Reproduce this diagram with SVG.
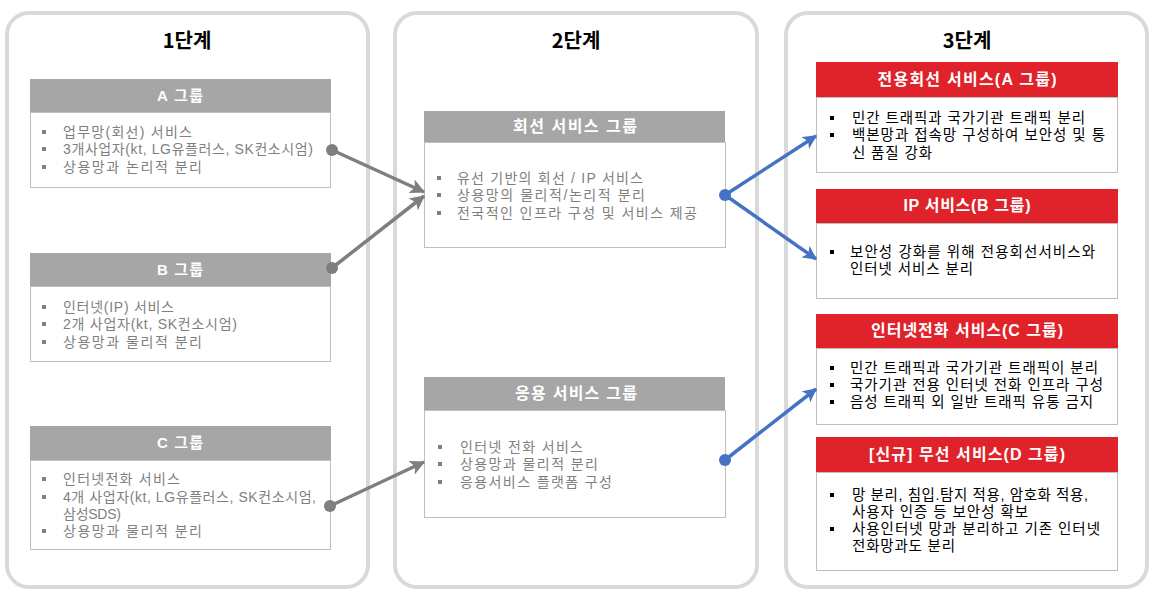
<svg xmlns="http://www.w3.org/2000/svg" width="1156" height="604" viewBox="0 0 1156 604">
<defs>
<style>
.panel{fill:#fff;stroke:#d9d9d9;stroke-width:4}
.title{font-family:"Noto Sans CJK KR","Liberation Sans",sans-serif;font-size:20px;font-weight:bold;fill:#000;text-anchor:middle}
.gh{fill:#a6a6a6}
.rh{fill:#e0222a}
.body{fill:#fff;stroke:#bfbfbf;stroke-width:1}
.ht{font-family:"Liberation Sans","Noto Sans CJK KR",sans-serif;font-size:16px;font-weight:bold;fill:#fff;text-anchor:middle}
.gt{font-family:"Liberation Sans","Noto Sans CJK KR",sans-serif;font-size:14px;fill:#7f7f7f}
.bt{font-family:"Liberation Sans","Noto Sans CJK KR",sans-serif;font-size:14.5px;fill:#000}
.gb{fill:#7f7f7f}
.bb{fill:#000}
.gl{stroke:#7f7f7f;stroke-width:3.5;fill:none}
.bl{stroke:#4472c4;stroke-width:3.5;fill:none}
</style>
<marker id="ag" viewBox="0 0 12 12" refX="11" refY="6" markerWidth="15" markerHeight="15" markerUnits="userSpaceOnUse" orient="auto"><path d="M0,0 L12,6 L0,12 L3,6 z" fill="#7f7f7f"/></marker>
<marker id="ab" viewBox="0 0 12 12" refX="11" refY="6" markerWidth="14" markerHeight="14" markerUnits="userSpaceOnUse" orient="auto"><path d="M0,0 L12,6 L0,12 L3,6 z" fill="#4472c4"/></marker>
</defs>
<rect width="1156" height="604" fill="#fff"/>

<g id="stage1">
<rect class="panel" x="7" y="13" width="361" height="574" rx="22"/>
<text class="title" x="187" y="48">1단계</text>
</g>
<g id="stage2">
<rect class="panel" x="395" y="13" width="362" height="574" rx="22"/>
<text class="title" x="576" y="48">2단계</text>
</g>
<g id="stage3">
<rect class="panel" x="786" y="13" width="361" height="574" rx="22"/>
<text class="title" x="967" y="48">3단계</text>
</g>

<g id="groupA">
<rect class="gh" x="30" y="79" width="301" height="33"/>
<rect class="body" x="30.5" y="112.5" width="300" height="75"/>
<text class="ht" x="180" y="101" textLength="46" style="font-size:15px">A 그룹</text>
<rect class="gb" x="42" y="130" width="4" height="4"/>
<rect class="gb" x="42" y="147" width="4" height="4"/>
<rect class="gb" x="42" y="165" width="4" height="4"/>
<text class="gt"><tspan x="63" y="137" textLength="129">업무망(회선) 서비스</tspan><tspan x="63" y="154" textLength="250">3개사업자(kt, LG유플러스, SK컨소시엄)</tspan><tspan x="63" y="172" textLength="139">상용망과 논리적 분리</tspan></text>
</g>

<g id="groupB">
<rect class="gh" x="30" y="253" width="301" height="33"/>
<rect class="body" x="30.5" y="286.5" width="300" height="75"/>
<text class="ht" x="180" y="275" textLength="46" style="font-size:15px">B 그룹</text>
<rect class="gb" x="42" y="305" width="4" height="4"/>
<rect class="gb" x="42" y="322" width="4" height="4"/>
<rect class="gb" x="42" y="340" width="4" height="4"/>
<text class="gt"><tspan x="63" y="312" textLength="111">인터넷(IP) 서비스</tspan><tspan x="63" y="329" textLength="174">2개 사업자(kt, SK컨소시엄)</tspan><tspan x="63" y="347" textLength="139">상용망과 물리적 분리</tspan></text>
</g>

<g id="groupC">
<rect class="gh" x="30" y="426" width="301" height="34"/>
<rect class="body" x="30.5" y="460.5" width="300" height="89"/>
<text class="ht" x="180" y="448" textLength="46" style="font-size:15px">C 그룹</text>
<rect class="gb" x="42" y="477" width="4" height="4"/>
<rect class="gb" x="42" y="495" width="4" height="4"/>
<rect class="gb" x="42" y="529" width="4" height="4"/>
<text class="gt"><tspan x="63" y="484" textLength="117">인터넷전화 서비스</tspan><tspan x="63" y="502" textLength="253">4개 사업자(kt, LG유플러스, SK컨소시엄,</tspan><tspan x="63" y="519" textLength="58">삼성SDS)</tspan><tspan x="63" y="536" textLength="139">상용망과 물리적 분리</tspan></text>
</g>

<g id="circuitGroup">
<rect class="gh" x="424" y="111" width="301" height="31"/>
<rect class="body" x="424.5" y="142.5" width="301" height="105"/>
<text class="ht" x="575" y="132" textLength="124">회선 서비스 그룹</text>
<rect class="gb" x="437" y="176" width="4" height="4"/>
<rect class="gb" x="437" y="193" width="4" height="4"/>
<rect class="gb" x="437" y="211" width="4" height="4"/>
<text class="gt"><tspan x="457" y="183" textLength="186">유선 기반의 회선 / IP 서비스</tspan><tspan x="457" y="200" textLength="188">상용망의 물리적/논리적 분리</tspan><tspan x="457" y="218" textLength="240">전국적인 인프라 구성 및 서비스 제공</tspan></text>
</g>

<g id="appGroup">
<rect class="gh" x="424" y="377" width="301" height="33"/>
<rect class="body" x="424.5" y="410.5" width="301" height="107"/>
<text class="ht" x="576" y="399" textLength="122">응용 서비스 그룹</text>
<rect class="gb" x="438" y="445" width="4" height="4"/>
<rect class="gb" x="438" y="462" width="4" height="4"/>
<rect class="gb" x="438" y="480" width="4" height="4"/>
<text class="gt"><tspan x="460" y="452" textLength="123">인터넷 전화 서비스</tspan><tspan x="460" y="469" textLength="138">상용망과 물리적 분리</tspan><tspan x="460" y="487" textLength="152">응용서비스 플랫폼 구성</tspan></text>
</g>

<g id="dedicatedA">
<rect class="rh" x="816" y="62" width="302" height="35"/>
<rect class="body" x="816.5" y="97.5" width="301" height="75"/>
<text class="ht" x="967" y="85" textLength="179">전용회선 서비스(A 그룹)</text>
<rect class="bb" x="830" y="116" width="4" height="4"/>
<rect class="bb" x="830" y="133" width="4" height="4"/>
<text class="bt"><tspan x="852" y="123" textLength="233">민간 트래픽과 국가기관 트래픽 분리</tspan><tspan x="852" y="140" textLength="253">백본망과 접속망 구성하여 보안성 및 통</tspan><tspan x="852" y="158" textLength="80">신 품질 강화</tspan></text>
</g>

<g id="ipB">
<rect class="rh" x="816" y="189" width="302" height="34"/>
<rect class="body" x="816.5" y="223.5" width="301" height="75"/>
<text class="ht" x="967" y="211" textLength="127">IP 서비스(B 그룹)</text>
<rect class="bb" x="830" y="250" width="4" height="4"/>
<text class="bt"><tspan x="850" y="257" textLength="245">보안성 강화를 위해 전용회선서비스와</tspan><tspan x="850" y="274" textLength="123">인터넷 서비스 분리</tspan></text>
</g>

<g id="voipC">
<rect class="rh" x="816" y="314" width="302" height="34"/>
<rect class="body" x="816.5" y="348.5" width="301" height="76"/>
<text class="ht" x="967" y="336" textLength="192">인터넷전화 서비스(C 그룹)</text>
<rect class="bb" x="830" y="366" width="4" height="4"/>
<rect class="bb" x="830" y="383" width="4" height="4"/>
<rect class="bb" x="830" y="400" width="4" height="4"/>
<text class="bt"><tspan x="850" y="373" textLength="248">민간 트래픽과 국가기관 트래픽이 분리</tspan><tspan x="850" y="390" textLength="253">국가기관 전용 인터넷 전화 인프라 구성</tspan><tspan x="850" y="407" textLength="243">음성 트래픽 외 일반 트래픽 유통 금지</tspan></text>
</g>

<g id="wirelessD">
<rect class="rh" x="816" y="437" width="302" height="35"/>
<rect class="body" x="816.5" y="472.5" width="301" height="98"/>
<text class="ht" x="967" y="460" textLength="196">[신규] 무선 서비스(D 그룹)</text>
<rect class="bb" x="830" y="493" width="4" height="4"/>
<rect class="bb" x="830" y="527" width="4" height="4"/>
<text class="bt"><tspan x="852" y="500" textLength="236">망 분리, 침입.탐지 적용, 암호화 적용,</tspan><tspan x="852" y="517" textLength="176">사용자 인증 등 보안성 확보</tspan><tspan x="852" y="534" textLength="248">사용인터넷 망과 분리하고 기존 인터넷</tspan><tspan x="852" y="551" textLength="103">전화망과도 분리</tspan></text>
</g>

<g id="connectors">
<line class="gl" x1="332" y1="150" x2="424" y2="192" marker-end="url(#ag)"/>
<line class="gl" x1="332" y1="268" x2="424" y2="196" marker-end="url(#ag)"/>
<line class="gl" x1="330" y1="506" x2="424" y2="462" marker-end="url(#ag)"/>
<circle cx="332" cy="150" r="6" fill="#7f7f7f"/>
<circle cx="332" cy="268" r="6" fill="#7f7f7f"/>
<circle cx="330" cy="506" r="6" fill="#7f7f7f"/>
<line class="bl" x1="725" y1="195" x2="816" y2="136" marker-end="url(#ab)"/>
<line class="bl" x1="725" y1="195" x2="816" y2="259" marker-end="url(#ab)"/>
<line class="bl" x1="725" y1="460" x2="816" y2="389" marker-end="url(#ab)"/>
<circle cx="725" cy="195" r="6" fill="#4472c4"/>
<circle cx="725" cy="460" r="6" fill="#4472c4"/>
</g>
</svg>
